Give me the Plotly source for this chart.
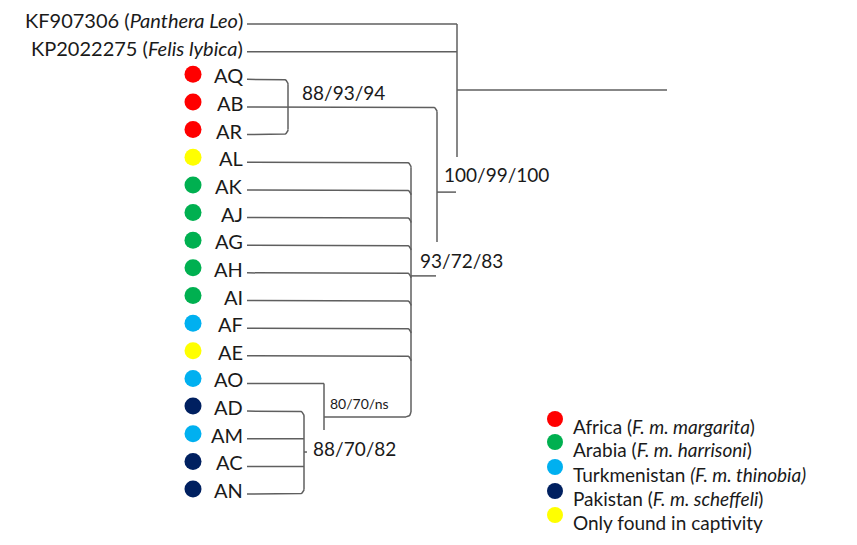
import numpy as np
import plotly.graph_objects as go

# ---------------- data ----------------
tip_labels = ["KF907306 (<i>Panthera Leo</i>)", "KP2022275 (<i>Felis lybica</i>)",
              "AQ", "AB", "AR", "AL", "AK", "AJ", "AG", "AH", "AI", "AF", "AE",
              "AO", "AD", "AM", "AC", "AN"]
tip_groups = [None, None, "Africa", "Africa", "Africa", "Captivity",
              "Arabia", "Arabia", "Arabia", "Arabia", "Arabia", "Turkmenistan",
              "Captivity", "Turkmenistan", "Pakistan", "Turkmenistan", "Pakistan", "Pakistan"]
# node (x) each tip branch joins, and how the branch turns into that node
tip_node_x = [457, 457, 288, 437, 288, 411, 411, 411, 411, 411, 411, 411, 411,
              324, 304, 304, 304, 304]
tip_turn = ["none", "none", "down", "down", "up", "down", "down", "down", "down",
            "down", "down", "down", "down", "none", "down", "none", "none", "up"]

# internal nodes: x, first row, last row (fractional rows allowed)
node_x = [457, 437, 288, 411, 324, 304]
node_top = [0, 3, 2, 5, 13, 14]
node_bottom = [4.81, 7.88, 4, 14.21, 14.68, 17]
node_top_round = [False, True, True, True, False, True]
node_bottom_round = [False, False, True, True, False, True]

# connecting stems: row, x from, x to
stem_row = [2.39, 6.08, 9.11, 14.21, 15.48]
stem_x0 = [457, 437, 411, 324, 304]
stem_x1 = [667, 456, 436, 406, 307]

support_text = ["88/93/94", "100/99/100", "93/72/83", "80/70/ns", "88/70/82"]
support_x = [343, 496, 461, 359, 354]
support_row = [2.46, 5.46, 8.54, 13.74, 15.37]
support_size = [19, 19, 19, 14, 19]

legend_keys = ["Africa", "Arabia", "Turkmenistan", "Pakistan", "Captivity"]
legend_labels = ["Africa (<i>F. m. margarita</i>)", "Arabia (<i>F. m. harrisoni</i>)",
                 "Turkmenistan <i>(F. m. thinobia)</i>", "Pakistan (<i>F. m. scheffeli</i>)",
                 "Only found in captivity"]
group_colors = {"Africa": "#FF0000", "Arabia": "#00B050", "Turkmenistan": "#00B0F0",
                "Pakistan": "#002060", "Captivity": "#FFFF00"}

# ---------------- layout helpers ----------------
ROW0, ROWH = 24.0, 27.65
LINE_X0 = 247
R = 5
LINE_COLOR = "#5f5f5f"
FONT = "Lato"


def ry(i):
    return ROW0 + ROWH * i


xs, ys = [], []


def seg(px, py):
    xs.extend(list(px) + [None])
    ys.extend(list(py) + [None])


t = np.linspace(0, np.pi / 2, 8)

for i, (nx, turn) in enumerate(zip(tip_node_x, tip_turn)):
    y = ry(i)
    if turn == "none":
        seg([LINE_X0, nx], [y, y])
    elif turn == "down":
        ax = list(nx - R + R * np.sin(t))
        ay = list(y + R - R * np.cos(t))
        seg([LINE_X0] + ax, [y] + ay)
    else:
        ax = list(nx - R + R * np.sin(t))
        ay = list(y - R + R * np.cos(t))
        seg([LINE_X0] + ax, [y] + ay)

for nx, a, b, tr, br in zip(node_x, node_top, node_bottom, node_top_round, node_bottom_round):
    y0 = ry(a) + (R if tr else 0)
    y1 = ry(b) - (R if br else 0)
    seg([nx, nx], [y0, y1])

# bottom of the 411 clade turns left into its stem
bx, bb = node_x[3], ry(node_bottom[3])
seg(list(bx - R + R * np.cos(t)), list(bb - R + R * np.sin(t)))

for r_, a, b in zip(stem_row, stem_x0, stem_x1):
    seg([a, b], [ry(r_), ry(r_)])

fig = go.Figure()
fig.add_trace(go.Scatter(x=xs, y=ys, mode="lines", line=dict(color=LINE_COLOR, width=1.5),
                         hoverinfo="skip", showlegend=False))

# tip dots
dot_x, dot_y, dot_c = [], [], []
for i, g in enumerate(tip_groups):
    if g:
        dot_x.append(193)
        dot_y.append(ry(i) - 5)
        dot_c.append(group_colors[g])
fig.add_trace(go.Scatter(x=dot_x, y=dot_y, mode="markers",
                         marker=dict(size=17, color=dot_c, line=dict(width=0)),
                         hoverinfo="skip", showlegend=False))

# legend dots
leg_y = [419, 442, 467, 491, 515]
fig.add_trace(go.Scatter(x=[555] * len(legend_keys), y=leg_y, mode="markers",
                         marker=dict(size=16, color=[group_colors[k] for k in legend_keys],
                                     line=dict(width=0)),
                         hoverinfo="skip", showlegend=False))

annotations = []
for i, lab in enumerate(tip_labels):
    annotations.append(dict(x=245, y=ry(i) - 4, text=lab, showarrow=False,
                            xanchor="right", yanchor="middle",
                            font=dict(family=FONT, size=20, color="#1a1a1a")))
for txt, x, r_, s in zip(support_text, support_x, support_row, support_size):
    annotations.append(dict(x=x, y=ry(r_), text=txt, showarrow=False,
                            xanchor="center", yanchor="middle",
                            font=dict(family=FONT, size=s, color="#1a1a1a")))
for lab, y in zip(legend_labels, leg_y):
    annotations.append(dict(x=571, y=y + 7, text=lab, showarrow=False,
                            xanchor="left", yanchor="middle",
                            font=dict(family=FONT, size=19, color="#1a1a1a")))

fig.update_layout(
    width=857, height=545,
    margin=dict(l=0, r=0, t=0, b=0),
    paper_bgcolor="white", plot_bgcolor="white",
    xaxis=dict(range=[0, 857], visible=False, fixedrange=True),
    yaxis=dict(range=[545, 0], visible=False, fixedrange=True),
    annotations=annotations,
)

fig.write_html("out.html", config={"displayModeBar": False},
               post_script="document.body.style.margin='0';")
